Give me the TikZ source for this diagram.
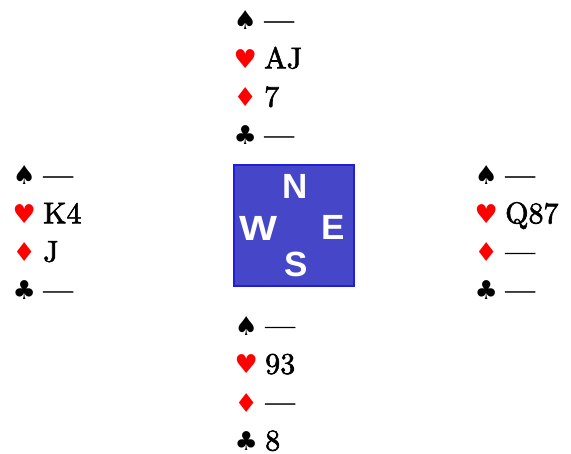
\documentclass[tikz,border=0pt]{standalone}
\usepackage{fontspec}
\setmainfont{lmroman10-regular.otf}
\newfontfamily\handfont{lmroman10-regular.otf}[FakeBold=2,Ligatures=TeX]
\newfontfamily\suitfont{DejaVu Sans}
\newfontfamily\compassfont{Liberation Sans}
\usepackage{tikz}

\definecolor{compassfill}{RGB}{70,70,200}
\definecolor{compassedge}{RGB}{30,30,220}

% one suit symbol in a fixed column
\newcommand{\suitsym}[2]{\makebox[22pt]{\textcolor{#1}{\suitfont\fontsize{26}{26}\selectfont #2}}\hspace{8pt}}
% a whole hand: spades, hearts, diamonds, clubs
\newcommand{\bridgehand}[4]{%
  \begin{tabular}[t]{@{}l@{}}
    \suitsym{black}{♠}#1\\
    \suitsym{red}{♥}#2\\
    \suitsym{red}{♦}#3\\
    \suitsym{black}{♣}#4
  \end{tabular}}

\begin{document}
\begin{tikzpicture}[x=1pt,y=-1pt,
  hand/.style={anchor=base west,inner sep=0pt,
    font=\handfont\fontsize{30}{38.3}\selectfont},
  compassletter/.style={text=white,inner sep=0pt,
    font=\compassfont\bfseries\fontsize{35}{35}\selectfont}]

\useasboundingbox (0,0) rectangle (571,454);

% Compass
\draw[fill=compassfill,draw=compassedge,line width=2pt] (234,165) rectangle (354,286);
\node[compassletter] (north) at (295,186) {N};
\node[compassletter,xscale=1.15] (west) at (258,228) {W};
\node[compassletter] (east) at (333,227) {E};
\node[compassletter] (south) at (296,264) {S};

% North hand
\node[hand] (northhand) at (234,30) {\bridgehand{—}{AJ}{7}{—}};

% West hand
\node[hand] (westhand) at (13,185) {\bridgehand{—}{K4}{J}{—}};

% East hand
\node[hand] (easthand) at (475,185) {\bridgehand{—}{Q87}{—}{—}};

% South hand
\node[hand] (southhand) at (235,335.5) {\bridgehand{—}{93}{—}{8}};

\end{tikzpicture}
\end{document}
